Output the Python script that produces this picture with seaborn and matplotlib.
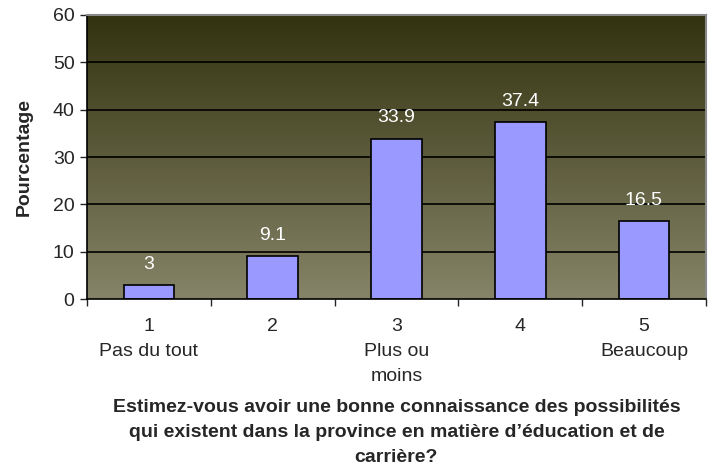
import numpy as np
import matplotlib
matplotlib.use("Agg")
import matplotlib.pyplot as plt
import seaborn as sns
import pandas as pd
from matplotlib.colors import LinearSegmentedColormap

# Data
categories = ["1\nPas du tout", "2", "3\nPlus ou\nmoins", "4", "5\nBeaucoup"]
values = [3, 9.1, 33.9, 37.4, 16.5]
value_labels = ["3", "9.1", "33.9", "37.4", "16.5"]

df = pd.DataFrame({"cat": categories, "val": values})

sns.set_style("white")
plt.rcParams["font.family"] = ["Liberation Sans", "DejaVu Sans"]

fig = plt.figure(figsize=(7.13, 4.66), dpi=100)
ax = fig.add_axes([0.122, 0.358, 0.868, 0.610])

# gradient background (dark olive at top, grey olive at bottom)
cmap = LinearSegmentedColormap.from_list("bg", ["#868468", "#32320f"])
grad = np.linspace(0, 1, 256).reshape(-1, 1)
ax.imshow(grad, cmap=cmap, aspect="auto", origin="lower",
          extent=[-0.5, 4.5, 0, 60], zorder=0)

for y in range(10, 60, 10):
    ax.axhline(y, color="black", lw=1.2, zorder=1)

sns.barplot(data=df, x="cat", y="val", color="#9999ff", saturation=1,
            width=0.41, edgecolor="black", linewidth=1.2, ax=ax, zorder=2)

for i, (v, lab) in enumerate(zip(values, value_labels)):
    ax.text(i, v + 4.4, lab, ha="center", va="center", color="white",
            fontsize=14, zorder=3)

ax.set_xlim(-0.5, 4.5)
ax.set_ylim(0, 60)
ax.set_yticks(range(0, 61, 10))
ax.tick_params(axis="y", labelsize=14, length=5, width=1, direction="out",
               left=True, pad=4)
ax.set_xticks(range(5))
ax.set_xticklabels(categories, fontsize=14, linespacing=1.62, va="top")
ax.set_xticks(np.arange(-0.5, 5, 1), minor=True)
ax.tick_params(axis="x", which="major", length=0, pad=13.5)
ax.tick_params(axis="x", which="minor", length=5, width=1, direction="out",
               bottom=True)

ax.set_ylabel("Pourcentage", fontsize=14, fontweight="bold", labelpad=14)
ax.set_xlabel("Estimez-vous avoir une bonne connaissance des possibilités\n"
              "qui existent dans la province en matière d’éducation et de\n"
              "carrière?", fontsize=14, fontweight="bold", linespacing=1.63,
              labelpad=10)

for side in ["left", "bottom"]:
    ax.spines[side].set_color("black")
    ax.spines[side].set_linewidth(1.2)
for side in ["top", "right"]:
    ax.spines[side].set_visible(True)
    ax.spines[side].set_color("#888888")
    ax.spines[side].set_linewidth(1.5)

fig.savefig("out.png", dpi=100)
